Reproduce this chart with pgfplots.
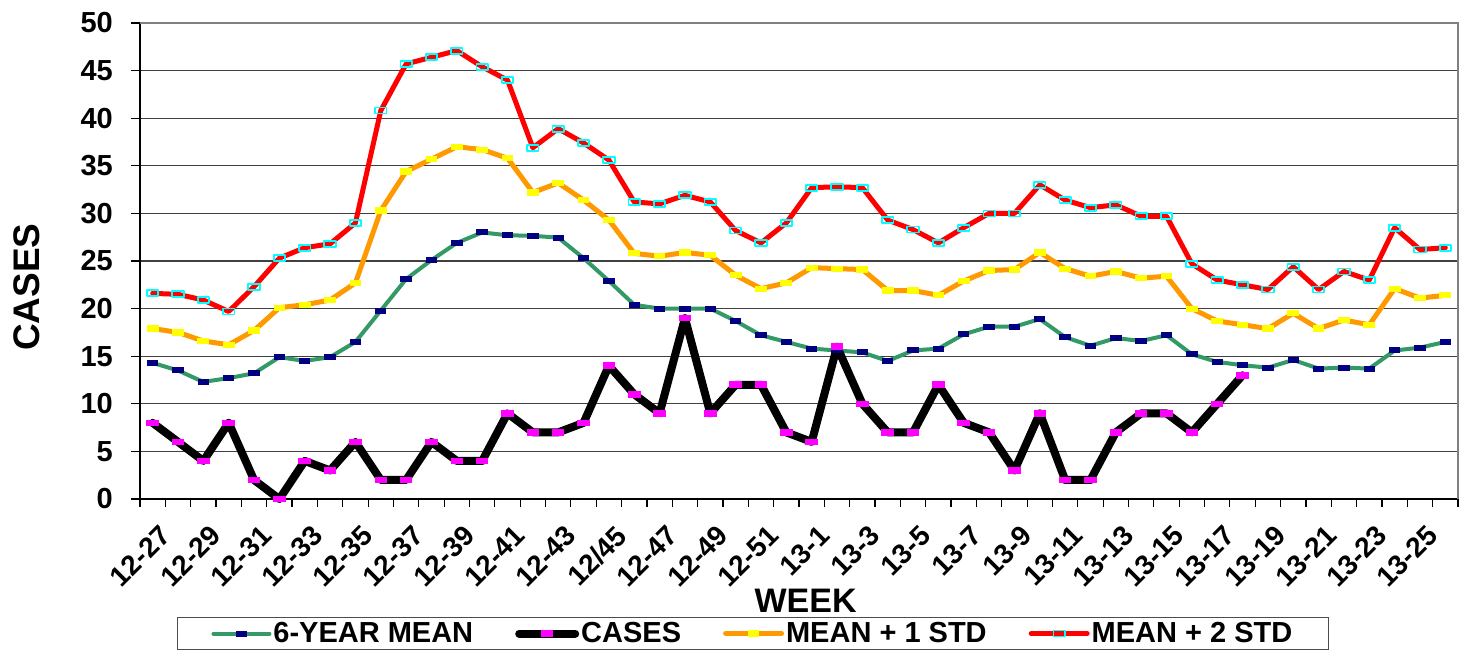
\documentclass[border=0pt]{standalone}
\usepackage{pgfplots}
\pgfplotsset{compat=1.18}
\usepackage{pgfplotstable}
\usepackage{fontspec}
\setmainfont{Liberation Sans}
\definecolor{cgreen}{RGB}{51,153,102}
\definecolor{cnavy}{RGB}{0,0,128}
\definecolor{corange}{RGB}{255,153,0}
\definecolor{cyellow}{RGB}{255,255,0}
\definecolor{cmagenta}{RGB}{255,0,255}
\definecolor{cred}{RGB}{255,0,0}
\definecolor{ccyan}{RGB}{0,255,255}
\pgfdeclareplotmark{rect}{\pgfpathrectangle{\pgfpoint{-1.9\pgfplotmarksize}{-\pgfplotmarksize}}{\pgfpoint{3.8\pgfplotmarksize}{2\pgfplotmarksize}}\pgfusepathqfill}
\pgfdeclareplotmark{rectopen}{\pgfpathrectangle{\pgfpoint{-1.9\pgfplotmarksize}{-\pgfplotmarksize}}{\pgfpoint{3.8\pgfplotmarksize}{2\pgfplotmarksize}}\pgfusepathqstroke}
\pgfplotstableread{
x mean cases sd1 sd2
0 14.3 8 17.9 21.6
1 13.5 6 17.5 21.5
2 12.3 4 16.6 20.9
3 12.7 8 16.2 19.7
4 13.2 2 17.7 22.3
5 14.9 0 20.1 25.3
6 14.5 4 20.4 26.4
7 14.9 3 20.9 26.8
8 16.5 6 22.7 29.0
9 19.8 2 30.3 40.8
10 23.1 2 34.4 45.7
11 25.1 6 35.7 46.4
12 26.9 4 37.0 47.1
13 28.0 4 36.7 45.4
14 27.7 9 35.8 44.0
15 27.65 7 32.2 36.9
16 27.45 7 33.2 38.9
17 25.3 8 31.4 37.4
18 22.9 14 29.3 35.6
19 20.4 11 25.8 31.2
20 20.0 9 25.5 31.0
21 20.0 19 25.9 31.9
22 20.0 9 25.6 31.2
23 18.7 12 23.5 28.2
24 17.2 12 22.1 26.9
25 16.5 7 22.7 29.0
26 15.8 6 24.3 32.7
27 15.6 16 24.2 32.8
28 15.4 10 24.1 32.7
29 14.5 7 21.9 29.3
30 15.6 7 21.9 28.3
31 15.8 12 21.4 26.9
32 17.3 8 22.9 28.5
33 18.1 7 24.0 30.0
34 18.1 3 24.1 30.0
35 18.9 9 25.9 33.0
36 17.0 2 24.2 31.4
37 16.1 2 23.4 30.6
38 16.9 7 23.9 30.9
39 16.6 9 23.2 29.7
40 17.2 9 23.4 29.7
41 15.2 7 20.0 24.7
42 14.4 10 18.7 23.0
43 14.05 13 18.3 22.5
44 13.8 nan 17.9 22.0
45 14.6 nan 19.5 24.4
46 13.7 nan 17.9 22.0
47 13.8 nan 18.8 23.9
48 13.7 nan 18.3 23.0
49 15.6 nan 22.1 28.5
50 15.9 nan 21.1 26.2
51 16.5 nan 21.4 26.4
}\datatable
\begin{document}
\begin{tikzpicture}
\begin{axis}[
  name=ax,
  scale only axis,
  x=25.346bp, y=9.52bp,
  xmin=-0.5, xmax=51.5, ymin=0, ymax=50,
  clip=false,
  /pgf/number format/assume math mode=true,
  axis line style={line width=1.5bp, black},
  tick align=outside,
  xtick pos=bottom, ytick pos=left,
  ytick={0,5,...,50},
  ymajorgrids,
  major grid style={line width=1.3bp, black!75},
  major tick length=9bp,
  minor tick length=8bp,
  ytick style={line width=1.2bp, black},
  xtick={0,2,...,50},
  xticklabels={12-27,12-29,12-31,12-33,12-35,12-37,12-39,12-41,12-43,12/45,12-47,12-49,12-51,13-1,13-3,13-5,13-7,13-9,13-11,13-13,13-15,13-17,13-19,13-21,13-23,13-25},
  major x tick style={draw=none},
  minor xtick={-0.5,0.5,...,51.5},
  minor x tick style={line width=1.2bp, black},
  yticklabel style={font=\fontsize{29bp}{29bp}\selectfont\bfseries, inner xsep=18bp},
  xticklabel style={font=\fontsize{28bp}{28bp}\selectfont\bfseries, rotate=45, anchor=north east, inner sep=0pt, xshift=-7bp, yshift=-15bp},
  ylabel={CASES},
  ylabel style={font=\fontsize{37bp}{37bp}\selectfont\bfseries, at={(axis description cs:-0.086,0.445)}, anchor=center},
  xlabel={WEEK},
  xlabel style={font=\fontsize{34bp}{34bp}\selectfont\bfseries, at={(axis description cs:0.505,-0.213)}, anchor=center},
  legend columns=4,
  legend style={at={(axis description cs:0.465,-0.248)}, anchor=north, draw=black!70, line width=1.2bp,
    font=\fontsize{29bp}{29bp}\selectfont\bfseries, inner xsep=34bp, inner ysep=3bp,
    /tikz/every even column/.append style={column sep=40bp}},
  legend image code/.code={\draw[mark repeat=2,mark phase=2] plot coordinates {(0bp,0bp) (28bp,0bp) (56bp,0bp)};},
  every axis plot/.append style={line join=round, line cap=round},
]
\addplot[cgreen, line width=4bp, mark=rect, mark size=3bp, mark options={fill=cnavy, draw=none}] table[x=x, y=mean] {\datatable};
\addlegendentry{6-YEAR MEAN}
\addplot[black, line width=8bp, mark=rect, mark size=3.3bp, mark options={fill=cmagenta, draw=none}] table[x=x, y=cases] {\datatable};
\addlegendentry{CASES}
\addplot[corange, line width=5bp, mark=rect, mark size=3.1bp, mark options={fill=cyellow, draw=none}] table[x=x, y=sd1] {\datatable};
\addlegendentry{MEAN + 1 STD}
\addplot[cred, line width=5bp, mark=rectopen, mark size=3bp, mark options={draw=ccyan, line width=1.8bp}] table[x=x, y=sd2] {\datatable};
\addlegendentry{MEAN + 2 STD}
\end{axis}
\draw[line width=2.5bp, black!50] (ax.north west) -- (ax.north east) -- (ax.south east);
\pgfresetboundingbox
\path[use as bounding box] ([xshift=-140bp,yshift=-151bp]ax.south west) rectangle ([xshift=8bp,yshift=23bp]ax.north east);
\end{tikzpicture}
\end{document}
